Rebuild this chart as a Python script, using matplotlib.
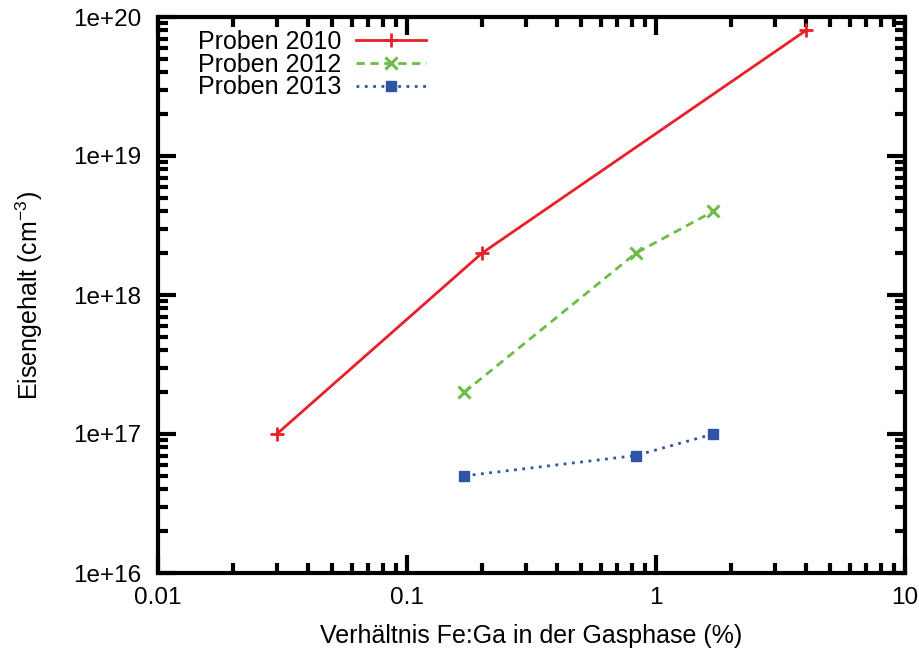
import math
import matplotlib
matplotlib.use("Agg")
import matplotlib.pyplot as plt
import matplotlib.ticker as ticker

plt.rcParams['font.family'] = ['Liberation Sans', 'DejaVu Sans']
plt.rcParams['mathtext.fontset'] = 'custom'
plt.rcParams['mathtext.rm'] = 'Liberation Sans'

# data
x_2010 = [0.03, 0.2, 4.0]
y_2010 = [1e17, 2e18, 8e19]
x_2012 = [0.17, 0.83, 1.7]
y_2012 = [2e17, 2e18, 4e18]
x_2013 = [0.17, 0.83, 1.7]
y_2013 = [5e16, 7e16, 1e17]

fig = plt.figure(figsize=(9.2, 6.51), dpi=100)
ax = fig.add_axes([158 / 920, 78 / 651, 747 / 920, 556 / 651])

ax.plot(x_2010, y_2010, color='#e8202a', lw=2, marker='+', ms=10, mew=2, label='Proben 2010')
ax.plot(x_2012, y_2012, color='#6bbd45', lw=2, ls=(0, (3, 2)), marker='x', ms=8, mew=2.2, label='Proben 2012')
ax.plot(x_2013, y_2013, color='#3153a5', lw=2, ls=(0, (1, 2)), marker='s', ms=7, label='Proben 2013')

ax.set_xscale('log')
ax.set_yscale('log')
ax.set_xlim(0.01, 10)
ax.set_ylim(1e16, 1e20)

ax.xaxis.set_major_formatter(ticker.FuncFormatter(lambda v, p: '%g' % v))
ax.yaxis.set_major_formatter(ticker.FuncFormatter(lambda v, p: '1e+%d' % round(math.log10(v))))
ax.yaxis.set_minor_formatter(ticker.NullFormatter())
ax.xaxis.set_minor_formatter(ticker.NullFormatter())

for s in ax.spines.values():
    s.set_linewidth(3)
ax.tick_params(which='both', direction='in', top=True, right=True, labelsize=17.5)
ax.tick_params(axis='x', pad=10)
ax.tick_params(axis='y', pad=12)
ax.tick_params(which='major', length=13, width=3)
ax.tick_params(which='minor', length=7, width=3)

ax.set_xlabel('Verhältnis Fe:Ga in der Gasphase (%)', fontsize=18, labelpad=11)
ax.set_ylabel('Eisengehalt (cm$^{-3}$)', fontsize=18, labelpad=20)

ax.legend(loc='upper left', frameon=False, markerfirst=False, fontsize=18,
          handlelength=2.8, handletextpad=0.6, borderaxespad=0.0, labelspacing=-0.05,
          bbox_to_anchor=(0.04, 0.995))

fig.savefig('out.png', dpi=100)
